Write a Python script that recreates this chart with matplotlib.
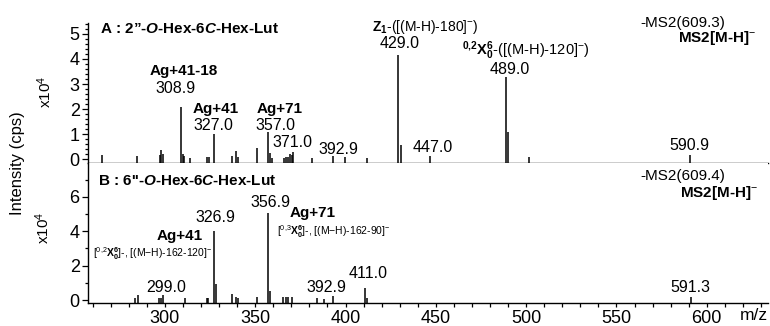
import matplotlib
matplotlib.use("Agg")
import matplotlib.pyplot as plt
import matplotlib.transforms as mtransforms
from matplotlib.ticker import MultipleLocator

plt.rcParams["font.family"] = ["Liberation Sans", "DejaVu Sans"]
plt.rcParams["mathtext.fontset"] = "custom"
plt.rcParams["mathtext.rm"] = "Liberation Sans"
plt.rcParams["mathtext.it"] = "Liberation Sans:italic:bold"
plt.rcParams["mathtext.bf"] = "Liberation Sans:bold"

# panel A: 2''-O-Hex-6C-Hex-Lut, intensity in 1e4 cps
mz_a = [265.2, 284.8, 297.2, 297.8, 299.1, 308.9, 309.8, 310.7, 313.9, 323.1,
        324.6, 327.0, 337.4, 339.1, 340.2, 350.9, 357.0, 358.3, 359.3, 365.7,
        367.0, 368.2, 369.1, 370.4, 371.0, 381.5, 392.9, 399.6, 411.7, 429.0,
        430.6, 447.0, 489.0, 489.8, 501.5, 590.9]
int_a = [0.18, 0.15, 0.18, 0.36, 0.22, 2.07, 0.2, 0.12, 0.07, 0.1,
         0.1, 1.02, 0.13, 0.32, 0.1, 0.45, 1.08, 0.27, 0.07, 0.07,
         0.09, 0.11, 0.22, 0.16, 0.28, 0.05, 0.13, 0.09, 0.06, 4.14,
         0.56, 0.13, 3.27, 1.09, 0.09, 0.18]
lab_a = ["308.9", "327.0", "357.0", "371.0", "392.9", "429.0", "447.0", "489.0", "590.9"]

# panel B: 6''-O-Hex-6C-Hex-Lut
mz_b = [283.3, 285.2, 296.7, 297.8, 299.0, 311.1, 323.1, 324.0, 326.9, 328.5,
        337.4, 339.1, 340.2, 351.2, 356.9, 358.4, 365.5, 367.0, 368.3, 370.2,
        384.0, 388.3, 392.9, 411.0, 412.0, 591.3]
int_b = [0.12, 0.3, 0.1, 0.12, 0.3, 0.1, 0.1, 0.12, 4.0, 0.92,
         0.35, 0.2, 0.12, 0.15, 5.06, 0.5, 0.15, 0.15, 0.15, 0.15,
         0.1, 0.05, 0.25, 0.72, 0.1, 0.2]
lab_b = ["299.0", "326.9", "356.9", "392.9", "411.0", "591.3"]

W, H = 770, 326
fig = plt.figure(figsize=(W / 100, H / 100), dpi=100)
# image pixel coordinates, origin at top left
px = mtransforms.Affine2D().scale(1 / W, -1 / H).translate(0, 1) + fig.transFigure

ax_a = fig.add_axes([88 / W, 1 - 162.5 / H, 680 / W, 140 / H])
ax_b = fig.add_axes([88 / W, 1 - 303.3 / H, 680 / W, 140.8 / H], sharex=ax_a)

ax_a.set_xlim(257.4, 633.9)
ax_a.set_ylim(-0.12, 5.45)
ax_b.set_ylim(-0.19, 8.0)

for ax, mz, inten in [(ax_a, mz_a, int_a), (ax_b, mz_b, int_b)]:
    ax.vlines(mz, ax.get_ylim()[0], inten, color="black", lw=1.1)
    for s in ["top", "right"]:
        ax.spines[s].set_visible(False)
    ax.spines["left"].set_linewidth(1.0)
    ax.spines["bottom"].set_linewidth(1.0)
    ax.tick_params(which="both", direction="out", width=0.9, labelsize=13, pad=2)
    ax.tick_params(which="major", length=4)
    ax.tick_params(which="minor", length=2.5)

ax_a.set_yticks([0, 1, 2, 3, 4, 5])
ax_a.yaxis.set_minor_locator(MultipleLocator(0.2))
ax_a.tick_params(axis="x", which="both", bottom=False, labelbottom=False)

ax_b.set_yticks([0, 2, 4, 6])
ax_b.set_yticks([1, 3, 5, 7], minor=True)
ax_b.xaxis.set_major_locator(MultipleLocator(50))
ax_b.xaxis.set_minor_locator(MultipleLocator(10))
ax_b.tick_params(axis="x", which="both", length=3)


def put(x, y, s, **kw):
    kw.setdefault("va", "baseline")
    fig.text(x, y, s, transform=px, **kw)


# peak m/z labels (pixel position of each label)
pos_a = [(176, 92.7), (213, 130), (275.5, 130), (292.5, 146.7), (338, 154),
         (400, 48), (432.7, 151.7), (510, 74), (689, 150)]
pos_b = [(166, 291.7), (215.5, 221.7), (270, 206.7), (326, 291.7), (368, 278.3),
         (690.7, 291.7)]
for s, (x, y) in zip(lab_a, pos_a):
    put(x, y, s, ha="center", fontsize=11.5)
for s, (x, y) in zip(lab_b, pos_b):
    put(x, y, s, ha="center", fontsize=11.5)

# panel A annotations
put(100, 33, r"A : 2”-$\mathit{O}$-Hex-6$\mathit{C}$-Hex-Lut", fontsize=11, fontweight="bold")
put(184, 75, "Ag+41-18", ha="center", fontsize=11, fontweight="bold")
put(215.5, 113, "Ag+41", ha="center", fontsize=11, fontweight="bold")
put(280, 113, "Ag+71", ha="center", fontsize=11, fontweight="bold")
put(372, 31, r"$\mathbf{Z_1}$-([(M-H)-180]$^{-}$)", fontsize=10)
put(462, 55, r"$\mathbf{^{0{,}2}X^{6}_{0}}$-([(M-H)-120]$^{-}$)", fontsize=10.5)
put(640, 26.7, "-MS2(609.3)", fontsize=11)
put(678, 41.7, r"MS2[M-H]$^{-}$", fontsize=11, fontweight="bold")

# panel B annotations
put(98, 185, r"B : 6''-$\mathit{O}$-Hex-6$\mathit{C}$-Hex-Lut", fontsize=11, fontweight="bold")
put(180, 240, "Ag+41", ha="center", fontsize=11, fontweight="bold")
put(290, 216.7, "Ag+71", fontsize=11, fontweight="bold")
put(93, 256.7, r"[$^{0{,}2}\mathbf{X^{6}_{0}}$]-, [(M−H)-162-120]$^{-}$", fontsize=7.5)
put(276.7, 235, r"[$^{0{,}3}\mathbf{X^{6}_{0}}$]-, [(M−H)-162-90]$^{-}$", fontsize=7.5)
put(640, 180, "-MS2(609.4)", fontsize=11)
put(680, 196.7, r"MS2[M-H]$^{-}$", fontsize=11, fontweight="bold")

# axis titles
put(18, 163, "Intensity (cps)", rotation=90, ha="center", va="center", fontsize=12)
put(45, 92, r"x10$^{4}$", rotation=90, ha="center", va="center", fontsize=11)
put(43, 228, r"x10$^{4}$", rotation=90, ha="center", va="center", fontsize=11)
put(740, 320, "m/z", fontsize=12.5)

fig.savefig("out.png", dpi=100)
